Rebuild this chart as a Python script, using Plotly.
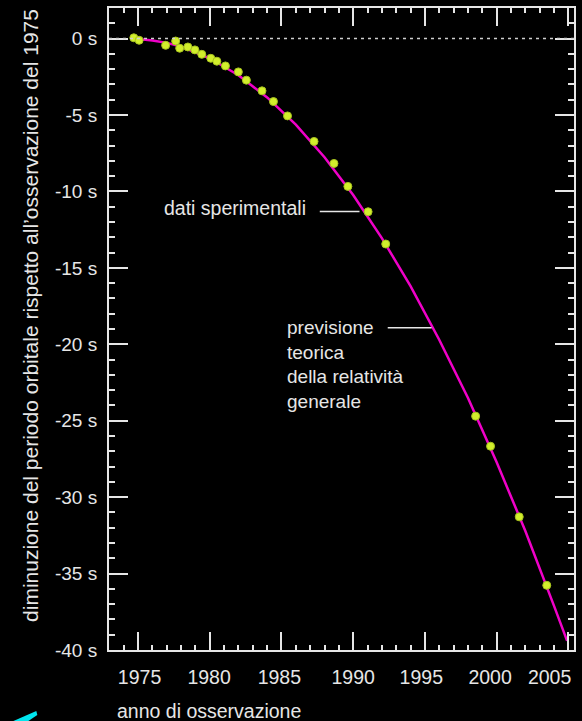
import plotly.graph_objects as go

# observed data (year, cumulative shift in s)
obs_year = [1974.70, 1975.07, 1976.92, 1977.62, 1977.90, 1978.47, 1978.96, 1979.44,
            1980.07, 1980.49, 1981.09, 1981.99, 1982.55, 1983.64, 1984.44, 1985.42,
            1987.27, 1988.66, 1989.63, 1991.04, 1992.27, 1998.54, 1999.58, 2001.58, 2003.50]
obs_shift = [0.05, -0.11, -0.44, -0.16, -0.63, -0.55, -0.74, -1.03,
             -1.29, -1.48, -1.79, -2.18, -2.72, -3.42, -4.12, -5.06,
             -6.73, -8.17, -9.67, -11.33, -13.44, -24.70, -26.67, -31.29, -35.77]

# general relativity prediction
gr_year = [1974.7, 1976, 1977, 1978, 1980, 1982, 1984, 1986, 1988, 1990,
           1992, 1994, 1996, 1998, 2000, 2002, 2004, 2004.92]
gr_shift = [0.0, -0.12, -0.28, -0.52, -1.29, -2.40, -3.85, -5.63, -7.76, -10.23,
            -13.05, -16.2, -19.7, -23.5, -27.7, -32.2, -37.1, -39.4]

y_tickvals = [0, -5, -10, -15, -20, -25, -30, -35, -40]
y_ticktext = ["0 s", "-5 s", "-10 s", "-15 s", "-20 s", "-25 s", "-30 s", "-35 s", "-40 s"]
x_labels = ["1975", "1980", "1985", "1990", "1995", "2000", "2005"]
x_label_pos = [1975.1, 1979.95, 1984.85, 1990.0, 1994.75, 1999.55, 2003.7]

FG = "#e6e6e6"
FONT = "Liberation Sans"

fig = go.Figure()
fig.add_trace(go.Scatter(x=gr_year, y=gr_shift, mode="lines",
                         line=dict(color="#f000c8", width=2.5), hoverinfo="skip",
                         showlegend=False))
fig.add_trace(go.Scatter(x=obs_year, y=obs_shift, mode="markers",
                         marker=dict(size=8, color="#d2ee2c",
                                     line=dict(color="#a6c21e", width=1)),
                         showlegend=False))
# carrier for the label axis
fig.add_trace(go.Scatter(x=[None], y=[None], xaxis="x2", showlegend=False,
                         hoverinfo="skip"))

xr = [1972.97, 2005.4]
fig.update_layout(
    width=582, height=721,
    margin=dict(l=109, r=6, t=7, b=71),
    paper_bgcolor="black", plot_bgcolor="black",
    font=dict(family=FONT, color=FG, size=19),
    xaxis=dict(range=xr, showgrid=False, zeroline=False, showline=True,
               linecolor=FG, linewidth=2, mirror="ticks",
               ticks="inside", ticklen=18, tickwidth=2, tickcolor=FG,
               tick0=1975, dtick=5, showticklabels=False,
               minor=dict(ticks="inside", ticklen=5, tickwidth=2, tickcolor=FG, dtick=1)),
    xaxis2=dict(range=xr, overlaying="x", side="bottom", showgrid=False,
                zeroline=False, showline=False, ticks="",
                tickmode="array", tickvals=x_label_pos, ticktext=x_labels,
                tickfont=dict(size=19.5, color=FG, family=FONT),
                ticklabelstandoff=13),
    yaxis=dict(range=[-40, 2], showgrid=False, zeroline=False, showline=True,
               linecolor=FG, linewidth=2, mirror="ticks",
               ticks="inside", ticklen=19, tickwidth=2, tickcolor=FG,
               tickmode="array", tickvals=y_tickvals, ticktext=y_ticktext,
               tickfont=dict(size=19, color=FG, family=FONT),
               ticklabelstandoff=6,
               minor=dict(ticks="inside", ticklen=6, tickwidth=2, tickcolor=FG,
                          tickmode="linear", tick0=0, dtick=1)),
)

# dotted zero line
fig.add_shape(type="line", xref="paper", x0=0, x1=1, yref="y", y0=0, y1=0,
              line=dict(color="#cfcfcf", width=1.5, dash="3px,4px"))

# leader lines
fig.add_shape(type="line", x0=1987.67, x1=1990.44, y0=-11.31, y1=-11.31,
              line=dict(color=FG, width=1.5))
fig.add_shape(type="line", x0=1992.41, x1=1995.47, y0=-18.92, y1=-18.92,
              line=dict(color=FG, width=1.5))

fig.add_annotation(x=1976.7, y=-11.1, text="dati sperimentali", showarrow=False,
                   xanchor="left", yanchor="middle", font=dict(size=19.5, color=FG))
fig.add_annotation(x=1985.25, y=-18.1, showarrow=False, xanchor="left", yanchor="top",
                   align="left",
                   text="previsione<br>teorica<br>della relatività<br>generale",
                   font=dict(size=19, color=FG))

# axis titles
fig.add_annotation(xref="paper", yref="paper", x=-0.169, y=0.521, textangle=-90,
                   text="diminuzione del periodo orbitale rispetto all\u2019osservazione del 1975",
                   showarrow=False, xanchor="center", yanchor="middle",
                   font=dict(size=21, color=FG))
fig.add_annotation(xref="paper", yref="paper", x=0.0128, y=-0.0949,
                   text="anno di osservazione", showarrow=False,
                   xanchor="left", yanchor="middle", font=dict(size=19.5, color=FG))

# cyan page fragment at bottom-left
fig.add_shape(type="path", xref="paper", yref="paper",
              path="M -0.2056 -0.1104 L -0.1563 -0.0949 L -0.1542 -0.1011 L -0.1734 -0.1104 Z",
              fillcolor="#00e5ee", line=dict(width=0))

fig.write_html("out.html")
